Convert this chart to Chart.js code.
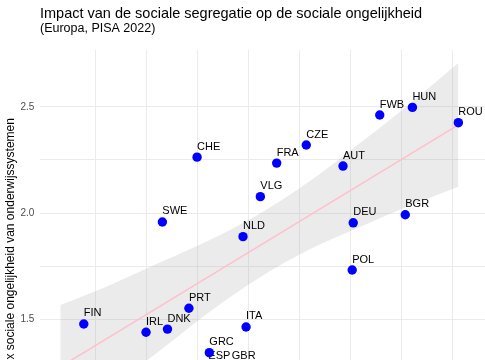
<!DOCTYPE html>
<html>
<head>
<meta charset="utf-8">
<script src="https://cdn.jsdelivr.net/npm/chart.js@4"></script>
<style>
  html, body { margin: 0; padding: 0; background: #fff; overflow: hidden; }
  canvas { display: block; }
</style>
</head>
<body>
<canvas id="segChart" width="520" height="480"></canvas>
<script>
// data
var countries = ['FIN', 'IRL', 'DNK', 'PRT', 'ITA', 'GRC', 'ESP', 'GBR', 'SWE', 'NLD', 'VLG',
                 'CHE', 'FRA', 'CZE', 'AUT', 'FWB', 'HUN', 'ROU', 'DEU', 'BGR', 'POL'];
var segregation = [0.139, 0.200, 0.221, 0.242, 0.298, 0.262, 0.261, 0.284, 0.216, 0.295, 0.312,
                   0.250, 0.328, 0.357, 0.393, 0.429, 0.461, 0.506, 0.403, 0.454, 0.402];
var inequality = [1.478, 1.439, 1.454, 1.552, 1.464, 1.343, 1.276, 1.276, 1.958, 1.889, 2.077,
                  2.263, 2.235, 2.320, 2.221, 2.461, 2.497, 2.425, 1.954, 1.992, 1.732];

// linear fit and its confidence band
var fitX = [0.116, 0.506];
var fitY = [1.276, 2.415];
var bandX = [0.116, 0.165, 0.214, 0.262, 0.311, 0.360, 0.409, 0.458, 0.506];
var bandLow = [0.985, 1.174, 1.354, 1.534, 1.696, 1.828, 1.933, 2.034, 2.124];
var bandHigh = [1.567, 1.662, 1.768, 1.872, 1.996, 2.148, 2.327, 2.512, 2.706];

var titleText = 'Impact van de sociale segregatie op de sociale ongelijkheid';
var subtitleText = '(Europa, PISA 2022)';
var yTitle = 'Index sociale ongelijkheid van onderwijssystemen';

var FONT = '"Liberation Sans", Arial, Helvetica, sans-serif';

function pairs(xs, ys) {
    return xs.map(function (x, i) { return { x: x, y: ys[i] }; });
}

// country codes, drawn just before the points so the dots sit on top
var pointLabels = {
    id: 'pointLabels',
    beforeDatasetDraw: function (chart, args) {
        if (args.index !== 0) return;
        var ctx = chart.ctx;
        ctx.save();
        ctx.font = '11px ' + FONT;
        ctx.fillStyle = '#000';
        ctx.textAlign = 'left';
        ctx.textBaseline = 'alphabetic';
        args.meta.data.forEach(function (pt, i) {
            ctx.fillText(countries[i], pt.x, pt.y - 7.5);
        });
        ctx.restore();
    }
};

var headings = {
    id: 'headings',
    afterDraw: function (chart) {
        var ctx = chart.ctx;
        ctx.save();
        ctx.fillStyle = '#000';
        ctx.textAlign = 'left';
        ctx.textBaseline = 'alphabetic';
        ctx.font = '14.5px ' + FONT;
        ctx.fillText(titleText, 40, 18.3);
        ctx.font = '12.5px ' + FONT;
        ctx.fillText(subtitleText, 40, 31.7);
        ctx.restore();
    }
};

function keepSteps(step) {
    return function (scale) {
        scale.ticks = scale.ticks.filter(function (t) {
            var r = t.value / step;
            return Math.abs(r - Math.round(r)) < 1e-6;
        });
    };
}

var ctx = document.getElementById('segChart').getContext('2d');
var segChart = new Chart(ctx, {
    type: 'scatter',
    data: {
        datasets: [{
            label: 'landen',
            data: pairs(segregation, inequality),
            backgroundColor: '#0000ff',
            borderWidth: 0,
            pointRadius: 4.7
        }, {
            label: 'lm',
            data: pairs(fitX, fitY),
            showLine: true,
            borderColor: '#ffc0cb',
            borderWidth: 1.6,
            pointRadius: 0
        }, {
            label: 'band laag',
            data: pairs(bandX, bandLow),
            showLine: true,
            borderWidth: 0,
            borderColor: 'rgba(0,0,0,0)',
            pointRadius: 0,
            cubicInterpolationMode: 'monotone'
        }, {
            label: 'band hoog',
            data: pairs(bandX, bandHigh),
            showLine: true,
            borderWidth: 0,
            borderColor: 'rgba(0,0,0,0)',
            pointRadius: 0,
            cubicInterpolationMode: 'monotone',
            fill: '-1',
            backgroundColor: 'rgba(153,153,153,0.2)'
        }]
    },
    options: {
        responsive: false,
        animation: false,
        layout: {
            padding: { top: 50, bottom: 29, left: 0, right: 0 }
        },
        plugins: {
            legend: { display: false },
            tooltip: { enabled: false }
        },
        scales: {
            x: {
                type: 'linear',
                min: 0.0961,
                max: 0.5618,
                afterBuildTicks: keepSteps(0.05),
                afterFit: function (scale) { scale.height = 0; },
                ticks: { display: false, stepSize: 0.05 },
                grid: { color: '#ebebeb', lineWidth: 1, drawTicks: false },
                border: { display: false }
            },
            y: {
                type: 'linear',
                min: 0.8805,
                max: 2.767,
                afterBuildTicks: keepSteps(0.25),
                afterFit: function (scale) { scale.width = 40; },
                ticks: {
                    stepSize: 0.25,
                    padding: 5.7,
                    color: '#4d4d4d',
                    font: { family: FONT, size: 10 },
                    callback: function (v) {
                        var r = v / 0.5;
                        return Math.abs(r - Math.round(r)) < 1e-6 ? v.toFixed(1) : '';
                    }
                },
                grid: { color: '#ebebeb', lineWidth: 1, drawTicks: false },
                border: { display: false },
                title: {
                    display: true,
                    text: yTitle,
                    color: '#000',
                    font: { family: FONT, size: 12 },
                    padding: { top: 3, bottom: 0 }
                }
            }
        }
    },
    plugins: [pointLabels, headings]
});
</script>
</body>
</html>
